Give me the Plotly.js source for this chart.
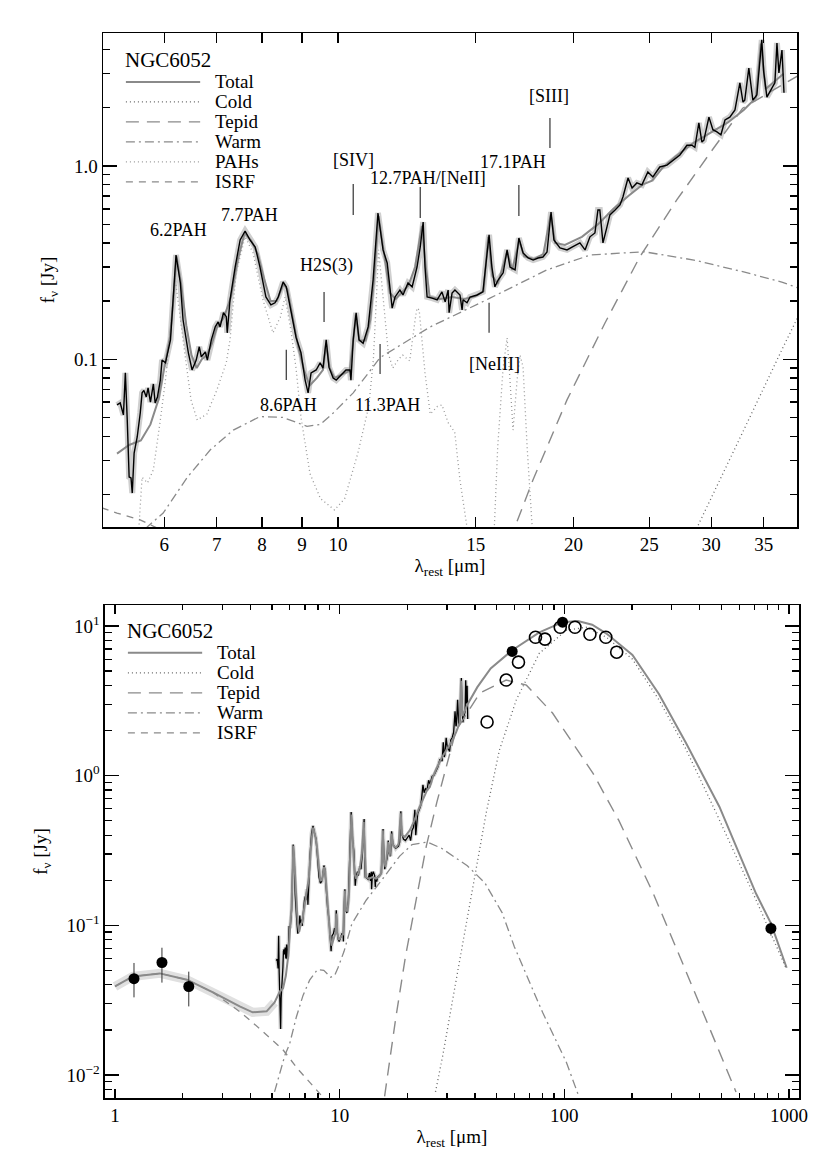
<!DOCTYPE html>
<html>
<head>
<meta charset="utf-8">
<script src="https://cdn.plot.ly/plotly-3.0.1.min.js"></script>
<style>body{margin:0;background:#fff}#sed{width:830px;height:1164px}</style>
</head>
<body>
<div id="sed"></div>
<script>
// IRS spectrum of NGC6052 (rest wavelength in micron, flux in Jy)
var specLam = [5.22,5.27,5.32,5.35,5.38,5.41,5.44,5.46,5.49,5.54,
  5.59,5.62,5.65,5.69,5.72,5.76,5.81,5.84,5.88,5.93,
  5.96,6.02,6.11,6.16,6.21,6.29,6.34,6.44,6.51,6.59,
  6.65,6.69,6.77,6.81,6.89,6.97,7.03,7.07,7.14,7.20,
  7.22,7.28,7.39,7.50,7.61,7.72,7.84,7.95,8.09,8.21,
  8.31,8.39,8.51,8.59,8.71,8.84,8.97,9.08,9.16,9.24,
  9.38,9.49,9.57,9.66,9.74,9.86,9.95,10.10,10.24,10.36,
  10.39,10.46,10.55,10.64,10.77,10.93,11.09,11.25,11.42,11.56,
  11.73,11.83,12.00,12.11,12.29,12.44,12.62,12.74,12.85,12.92,
  13.00,13.19,13.39,13.58,13.71,13.83,13.87,13.99,14.11,14.32,
  14.41,14.45,14.62,14.75,15.06,15.32,15.46,15.60,15.73,15.87,
  16.02,16.26,16.45,16.59,16.84,17.03,17.24,17.50,17.76,18.02,
  18.28,18.50,18.72,18.88,19.22,19.62,19.94,20.38,20.69,20.99,
  21.30,21.49,21.61,21.81,22.07,22.26,22.60,22.93,23.13,23.48,
  23.76,24.10,24.46,24.89,25.26,25.78,26.33,26.80,27.35,27.92,
  28.33,28.58,28.92,29.18,29.35,29.79,30.14,30.50,30.86,31.23,
  31.68,32.16,32.63,32.93,33.10,33.50,33.90,34.30,34.80,35.00,
  35.33,35.85,36.17,36.39,36.60,36.93,37.15];
var specFlux = [0.058,0.0594,0.0515,0.085,0.0485,0.0246,0.0243,0.0203,0.0327,0.0396,
  0.0527,0.067,0.069,0.0638,0.071,0.060,0.0745,0.0594,0.0638,0.078,
  0.099,0.0958,0.126,0.203,0.346,0.248,0.160,0.108,0.088,0.099,
  0.116,0.103,0.109,0.099,0.126,0.147,0.156,0.147,0.174,0.166,
  0.137,0.203,0.300,0.414,0.461,0.414,0.381,0.300,0.210,0.191,
  0.196,0.210,0.251,0.237,0.174,0.130,0.108,0.078,0.067,0.085,
  0.088,0.0957,0.090,0.126,0.091,0.080,0.078,0.083,0.088,0.088,
  0.078,0.126,0.174,0.126,0.121,0.147,0.257,0.571,0.368,0.315,
  0.184,0.210,0.228,0.215,0.248,0.237,0.300,0.381,0.513,0.300,
  0.210,0.207,0.203,0.223,0.198,0.228,0.174,0.220,0.228,0.215,
  0.180,0.203,0.196,0.210,0.215,0.223,0.315,0.440,0.300,0.237,
  0.257,0.280,0.368,0.300,0.290,0.424,0.355,0.334,0.326,0.334,
  0.338,0.359,0.578,0.414,0.377,0.368,0.381,0.400,0.368,0.430,
  0.450,0.592,0.592,0.400,0.484,0.558,0.592,0.629,0.691,0.867,
  0.769,0.817,0.798,0.931,0.877,0.988,1.01,1.07,1.14,1.28,
  1.28,1.25,1.67,1.33,1.36,1.79,1.54,1.50,1.45,1.73,
  1.79,1.95,2.69,2.14,2.19,3.21,2.19,2.33,4.49,3.07,
  2.27,2.53,2.69,4.33,3.03,3.98,2.39];

// total model over the IRS range
var modelLam = [5.22,5.41,5.6,5.76,5.9,6.0,6.1,6.16,6.22,6.3,6.4,6.5,6.6,6.7,6.8,6.9,7.0,7.15,7.3,7.45,
  7.6,7.75,7.9,8.05,8.2,8.35,8.52,8.62,8.75,8.9,9.05,9.2,9.4,9.57,9.66,9.76,9.9,10.1,10.35,10.45,
  10.54,10.65,10.85,11.0,11.12,11.27,11.45,11.65,11.85,12.1,12.3,12.55,12.8,12.95,13.1,13.5,14.0,14.5,15.0,15.35,
  15.56,15.75,16.0,16.2,16.45,16.7,17.05,17.3,17.8,18.3,18.7,18.95,19.5,20.5,21.5,22.5,23.5,24.5,25.2,26,
  27,28.5,30,31.5,33,34.2,34.7,35.2,36,37.1];
var modelFlux = [0.0325,0.036,0.038,0.046,0.062,0.09,0.13,0.2,0.34,0.25,0.15,0.105,0.09,0.1,0.105,0.12,0.145,0.165,0.21,0.33,
  0.45,0.41,0.35,0.26,0.2,0.2,0.245,0.23,0.165,0.115,0.088,0.073,0.08,0.088,0.12,0.09,0.08,0.083,0.087,0.12,
  0.17,0.125,0.125,0.16,0.26,0.55,0.36,0.22,0.205,0.225,0.24,0.3,0.49,0.3,0.21,0.205,0.21,0.205,0.212,0.225,
  0.43,0.27,0.245,0.29,0.36,0.29,0.41,0.34,0.33,0.35,0.56,0.4,0.39,0.43,0.5,0.6,0.7,0.8,0.84,0.98,
  1.12,1.32,1.5,1.68,1.95,2.25,4.3,2.5,2.7,3.0];

// total model outside the IRS range
var nirLam = [1.0,1.2,1.585,2.09,2.73,3.59,4.1,4.73,5.13];
var nirFlux = [0.039,0.0455,0.0477,0.0433,0.0356,0.0287,0.0262,0.0266,0.0305];
var firLam = [41,47,58.6,77.4,98.2,115,133,154,201,264,348,490,713,831,976];
var firFlux = [3.9,5.2,6.88,9.06,10.6,10.8,10.2,8.9,6.4,3.5,1.65,0.62,0.163,0.103,0.052];

// model components
var pahLam = [5.55,5.62,5.71,5.81,5.93,6.02,6.11,6.19,6.34,6.49,6.61,6.8,7.0,7.2,7.28,7.41,7.61,7.79,8.02,8.26,
  8.44,8.56,8.71,8.84,8.97,9.21,9.5,9.9,10.2,10.6,10.95,11.1,11.2,11.27,11.42,11.6,11.75,11.95,12.1,12.35,
  12.55,12.62,12.7,12.8,12.92,13.12,13.4,13.58,13.83,14.1,14.32,14.6,15.2,15.85,16.0,16.26,16.45,16.59,16.74,16.94,
  17.09,17.24,17.45,17.7,18.2];
var pahFlux = [0.011,0.0245,0.0229,0.0268,0.0485,0.078,0.142,0.267,0.126,0.0616,0.0485,0.052,0.069,0.096,0.126,0.28,0.43,0.355,0.203,0.137,
  0.165,0.21,0.14,0.09,0.05,0.0256,0.019,0.0166,0.019,0.0325,0.057,0.1,0.21,0.368,0.21,0.107,0.09,0.1,0.105,0.098,
  0.16,0.184,0.18,0.13,0.085,0.052,0.057,0.058,0.047,0.042,0.0237,0.014,0.004,0.014,0.035,0.091,0.129,0.078,0.043,0.078,
  0.105,0.091,0.035,0.014,0.004];
var warmLam = [5.13,5.71,5.98,6.42,6.87,7.35,7.95,8.5,9.13,9.49,9.83,10.46,11.32,13.12,15.64,18.5,21.0,24.6,28.5,33.0,
  37.0,44.3,52.9,59.9,80,102,116];
var warmFlux = [0.0077,0.0136,0.016,0.0245,0.034,0.043,0.0505,0.050,0.045,0.046,0.052,0.067,0.102,0.147,0.207,0.29,0.346,0.36,0.326,0.283,
  0.25,0.192,0.121,0.072,0.0262,0.0122,0.0072];
var tepidLam = [15.85,16.84,17.75,19.62,21.94,24.3,27.1,29.9,32.9,36.9,42.1,55.1,67.8,88.6,134,175,248,334,490,581];
var tepidFlux = [0.0072,0.0136,0.0237,0.0616,0.154,0.338,0.667,1.17,1.99,2.62,3.56,4.35,4.02,2.62,1.04,0.5,0.165,0.057,0.0145,0.0077];
var coldLam = [26.7,28.8,33,37,44.9,51.4,61.1,77.4,102,125,154,201,264,348,474,713,976];
var coldFlux = [0.0077,0.0136,0.043,0.114,0.564,1.48,3.2,6.57,9.36,9.8,8.4,6.0,3.2,1.5,0.564,0.148,0.0507];
var isrfLam = [1.0,1.2,1.585,2.09,2.73,3.59,4.1,5.22,5.58,6.5,7.99,8.5];
var isrfFlux = [0.039,0.0455,0.0477,0.0433,0.0356,0.0265,0.0224,0.016,0.0148,0.011,0.0078,0.007];

// photometry
var photLam = [1.215,1.618,2.13,58.6,98.2,831];
var photFlux = [0.044,0.0564,0.039,6.76,10.6,0.0953];
var photErrUp = [0.012,0.0144,0.010,0,0,0.01];
var photErrDn = [0.011,0.015,0.0103,0,0,0.01];
var openLam = [45.3,55.1,62.5,74.4,82.0,95.9,111.5,130,153,171];
var openFlux = [2.28,4.35,5.73,8.4,8.16,9.8,9.8,8.8,8.4,6.68];

// spectral feature labels (top panel)
var featNames = ['6.2PAH','7.7PAH','H2S(3)','[SIV]','12.7PAH/[NeII]','17.1PAH','[SIII]','8.6PAH','11.3PAH','[NeIII]'];
var featTextLam = [6.25,7.72,9.66,10.46,13.04,16.74,18.61,8.64,11.56,15.83];
var featTextFlux = [0.467,0.558,0.304,1.07,0.867,1.05,2.30,0.058,0.058,0.0945];
var markLam = [9.60,10.46,12.74,17.03,18.66,8.59,11.32,15.6];
var markTop = [0.223,0.807,0.779,0.798,1.77,0.112,0.12,0.196];
var markBot = [0.156,0.558,0.538,0.551,1.24,0.078,0.084,0.137];

var F = "'Liberation Serif', 'Times New Roman', Times, serif";
var grey = '#8a8a8a';
var st = {
  total: {color: grey, width: 2, dash: 'solid'},
  cold: {color: '#666', width: 1.3, dash: '1px,3px'},
  tepid: {color: grey, width: 1.4, dash: '13px,8px'},
  warm: {color: grey, width: 1.3, dash: '9px,4px,2px,4px'},
  pah: {color: '#999', width: 1.3, dash: '1px,3px'},
  isrf: {color: grey, width: 1.3, dash: '7px,6px'}
};

function line(x, y, xa, ya, s) {
  return {x: x, y: y, xaxis: xa, yaxis: ya, type: 'scatter', mode: 'lines',
    line: {color: s.color, width: s.width, dash: s.dash}, hoverinfo: 'skip', showlegend: false};
}

var totalLam = nirLam.concat(modelLam, firLam);
var totalFlux = nirFlux.concat(modelFlux, firFlux);

var data = [
  // top panel
  line(specLam, specFlux, 'x', 'y', {color: '#cfcfcf', width: 6, dash: 'solid'}),
  line(modelLam, modelFlux, 'x', 'y', st.total),
  line(pahLam, pahFlux, 'x', 'y', st.pah),
  line(warmLam, warmFlux, 'x', 'y', st.warm),
  line(tepidLam, tepidFlux, 'x', 'y', st.tepid),
  line(coldLam, coldFlux, 'x', 'y', st.cold),
  line(isrfLam, isrfFlux, 'x', 'y', st.isrf),
  line(specLam, specFlux, 'x', 'y', {color: '#000', width: 1.4, dash: 'solid'}),
  // bottom panel
  line(nirLam, nirFlux, 'x2', 'y2', {color: '#e0e0e0', width: 9, dash: 'solid'}),
  line(specLam, specFlux, 'x2', 'y2', {color: '#d5d5d5', width: 4, dash: 'solid'}),
  line(specLam, specFlux, 'x2', 'y2', {color: '#000', width: 1.3, dash: 'solid'}),
  line(totalLam, totalFlux, 'x2', 'y2', st.total),
  line(coldLam, coldFlux, 'x2', 'y2', st.cold),
  line(tepidLam, tepidFlux, 'x2', 'y2', st.tepid),
  line(warmLam, warmFlux, 'x2', 'y2', st.warm),
  line(isrfLam, isrfFlux, 'x2', 'y2', st.isrf),
  {x: photLam, y: photFlux, xaxis: 'x2', yaxis: 'y2', type: 'scatter', mode: 'markers',
    marker: {color: '#000', size: 11, symbol: 'circle'}, showlegend: false, hoverinfo: 'skip',
    error_y: {type: 'data', symmetric: false, array: photErrUp, arrayminus: photErrDn,
      color: '#333', thickness: 1, width: 0}},
  {x: openLam, y: openFlux, xaxis: 'x2', yaxis: 'y2', type: 'scatter', mode: 'markers',
    marker: {color: '#000', size: 12, symbol: 'circle-open', line: {width: 1.6}},
    showlegend: false, hoverinfo: 'skip'}
];

// feature marker ticks
for (var i = 0; i < markLam.length; i++) {
  data.push(line([markLam[i], markLam[i]], [markBot[i], markTop[i]], 'x', 'y', {color: '#333', width: 1.2, dash: 'solid'}));
}

var annotations = [];
var shapes = [];
featNames.forEach(function(n, i) {
  annotations.push({x: Math.log10(featTextLam[i]), y: Math.log10(featTextFlux[i]), xref: 'x', yref: 'y',
    text: n, showarrow: false, xanchor: 'center', yanchor: 'middle', font: {family: F, size: 18, color: '#000'}});
});

// hand drawn legends
function addLegend(xa, ya, names, styles, y0, step) {
  annotations.push({x: 0.029, y: y0 + 0.044, xref: xa + ' domain', yref: ya + ' domain', text: 'NGC6052',
    showarrow: false, xanchor: 'left', yanchor: 'middle', font: {family: F, size: 21, color: '#000'}});
  names.forEach(function(n, i) {
    var yy = y0 - i * step;
    var s = styles[i];
    shapes.push({type: 'line', xref: xa + ' domain', yref: ya + ' domain', x0: 0.033, x1: 0.140, y0: yy, y1: yy,
      line: {color: s.color, width: s.width, dash: s.dash}});
    annotations.push({x: 0.158, y: yy, xref: xa + ' domain', yref: ya + ' domain', text: n, showarrow: false,
      xanchor: 'left', yanchor: 'middle', font: {family: F, size: 19, color: '#000'}});
  });
}
addLegend('x', 'y', ['Total', 'Cold', 'Tepid', 'Warm', 'PAHs', 'ISRF'],
  [st.total, st.cold, st.tepid, st.warm, st.pah, st.isrf], 0.901, 0.0405);
addLegend('x2', 'y2', ['Total', 'Cold', 'Tepid', 'Warm', 'ISRF'],
  [st.total, st.cold, st.tepid, st.warm, st.isrf], 0.903, 0.0406);

function axis(extra) {
  var a = {type: 'log', showline: true, linecolor: '#000', linewidth: 1.5, mirror: 'allticks',
    ticks: 'inside', tickcolor: '#000', tickwidth: 1.3, showgrid: false, zeroline: false,
    tickmode: 'array', tickfont: {family: F, size: 19, color: '#000'}};
  for (var k in extra) a[k] = extra[k];
  return a;
}
function minor(vals, len) {
  return {tickmode: 'array', tickvals: vals, ticks: 'inside', ticklen: len, tickwidth: 1.3, tickcolor: '#000', showgrid: false};
}

var layout = {
  width: 830, height: 1164,
  paper_bgcolor: '#fff', plot_bgcolor: '#fff',
  font: {family: F, color: '#000'},
  margin: {l: 103, r: 31, t: 33, b: 66},
  showlegend: false,
  xaxis: axis({domain: [0, 0.99713], range: [0.6998, 1.5866], anchor: 'y',
    tickvals: [6, 7, 8, 9, 10, 15, 20, 25, 30, 35], ticktext: ['6', '7', '8', '9', '10', '15', '20', '25', '30', '35'],
    ticklen: 10,
    title: {text: 'λ<sub>rest</sub> [μm]', font: {family: F, size: 19, color: '#000'}, standoff: 4}}),
  yaxis: axis({domain: [0.53615, 1], range: [-1.868, 0.688], anchor: 'x',
    tickvals: [0.1, 1], ticktext: ['0.1', '1.0'], ticklen: 14,
    minor: minor([0.02, 0.03, 0.04, 0.05, 0.06, 0.07, 0.08, 0.09, 0.2, 0.3, 0.4, 0.5, 0.6, 0.7, 0.8, 0.9, 2, 3, 4], 7),
    title: {text: 'f<sub>ν</sub> [Jy]', font: {family: F, size: 19, color: '#000'}, standoff: 14}}),
  xaxis2: axis({domain: [0.00287, 1], range: [-0.0445, 3.0445], anchor: 'y2',
    tickvals: [1, 10, 100, 1000], ticktext: ['1', '10', '100', '1000'], ticklen: 9,
    minor: minor([2, 3, 4, 5, 6, 7, 8, 9, 20, 30, 40, 50, 60, 70, 80, 90, 200, 300, 400, 500, 600, 700, 800, 900], 5),
    title: {text: 'λ<sub>rest</sub> [μm]', font: {family: F, size: 19, color: '#000'}, standoff: 4}}),
  yaxis2: axis({domain: [0, 0.46291], range: [-2.154, 1.14], anchor: 'x2',
    tickvals: [0.01, 0.1, 1, 10], ticktext: ['10<sup>−2</sup>', '10<sup>−1</sup>', '10<sup>0</sup>', '10<sup>1</sup>'],
    ticklen: 14,
    minor: minor([0.008, 0.009, 0.02, 0.03, 0.04, 0.05, 0.06, 0.07, 0.08, 0.09, 0.2, 0.3, 0.4, 0.5, 0.6, 0.7, 0.8, 0.9, 2, 3, 4, 5, 6, 7, 8, 9], 7),
    title: {text: 'f<sub>ν</sub> [Jy]', font: {family: F, size: 19, color: '#000'}, standoff: 14}}),
  annotations: annotations,
  shapes: shapes
};

Plotly.newPlot('sed', data, layout, {staticPlot: true});
</script>
</body>
</html>
